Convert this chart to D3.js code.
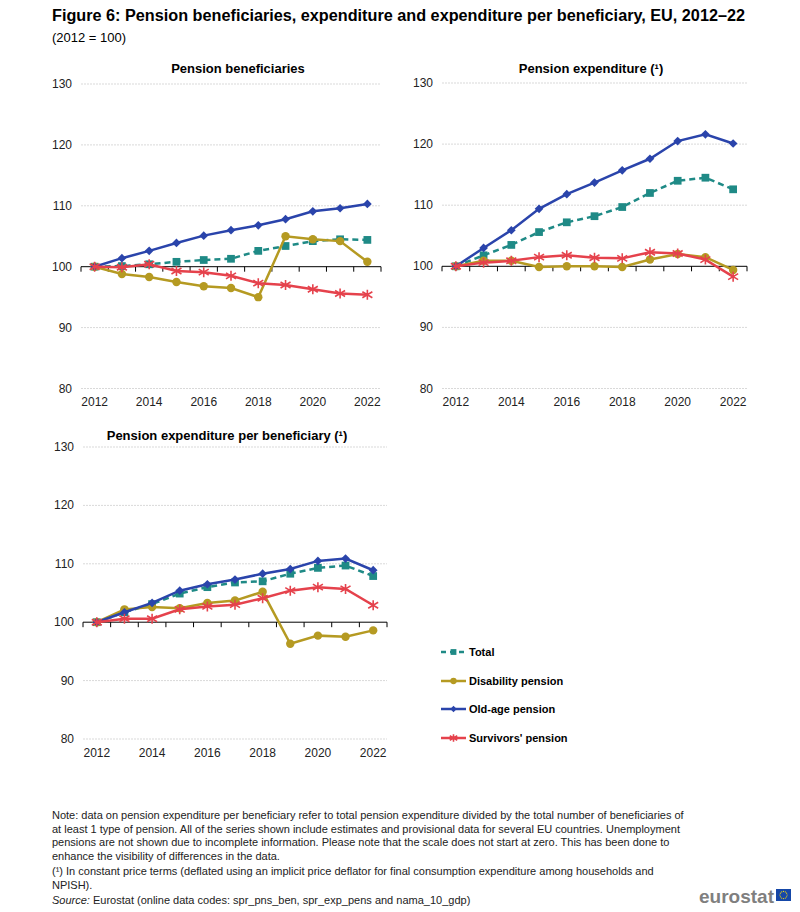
<!DOCTYPE html>
<html>
<head>
<meta charset="utf-8">
<script src="https://cdn.jsdelivr.net/npm/d3@7"></script>
<style>
  body { margin: 0; background: #fff; }
  text { font-family: Arial, "Liberation Sans", sans-serif; }
</style>
</head>
<body>
<svg id="chart" width="800" height="912"></svg>
<script>
// years on the x axis, labelled every other year
const years = [2012, 2013, 2014, 2015, 2016, 2017, 2018, 2019, 2020, 2021, 2022];
const yearLabels = [2012, 2014, 2016, 2018, 2020, 2022];
const yTicks = [80, 90, 100, 110, 120, 130];

const seriesNames = ["Total", "Disability pension", "Old-age pension", "Survivors' pension"];

// Pension beneficiaries (2012 = 100)
const benTotal      = [100, 100.1, 100.4, 100.8, 101.1, 101.3, 102.6, 103.4, 104.2, 104.5, 104.4];
const benDisability = [100, 98.8, 98.3, 97.5, 96.8, 96.5, 95.0, 105.0, 104.5, 104.2, 100.8];
const benOldAge     = [100, 101.4, 102.6, 103.9, 105.1, 106.0, 106.8, 107.8, 109.1, 109.6, 110.3];
const benSurvivors  = [100, 99.9, 100.4, 99.3, 99.1, 98.5, 97.3, 97.0, 96.3, 95.6, 95.4];

// Pension expenditure, constant prices (2012 = 100)
const expTotal      = [100, 101.8, 103.5, 105.6, 107.2, 108.2, 109.7, 112.0, 114.0, 114.5, 112.6];
const expDisability = [100, 100.9, 100.9, 99.9, 100.0, 100.0, 99.9, 101.1, 102.0, 101.5, 99.4];
const expOldAge     = [100, 103.0, 105.9, 109.4, 111.8, 113.7, 115.7, 117.6, 120.5, 121.6, 120.1];
const expSurvivors  = [100, 100.6, 100.9, 101.5, 101.8, 101.4, 101.3, 102.3, 102.1, 101.1, 98.3];

// Pension expenditure per beneficiary, constant prices (2012 = 100)
const perTotal      = [100, 101.7, 103.1, 104.9, 106.0, 106.8, 107.0, 108.3, 109.3, 109.7, 107.9];
const perDisability = [100, 102.2, 102.6, 102.4, 103.3, 103.7, 105.2, 96.3, 97.7, 97.5, 98.6];
const perOldAge     = [100, 101.7, 103.3, 105.4, 106.5, 107.3, 108.3, 109.1, 110.5, 110.9, 108.9];
const perSurvivors  = [100, 100.6, 100.6, 102.2, 102.7, 103.0, 104.1, 105.4, 106.0, 105.7, 102.9];

const colors = ["#1f8a86", "#b59a22", "#2a44ab", "#e5424c"];
const shapes = ["square", "circle", "diamond", "star"];

const panels = [
    {title: "Pension beneficiaries", series: [benTotal, benDisability, benOldAge, benSurvivors],
     x0: 81, x1: 381, yTop: 84, yBot: 388.5, titleX: 238, titleY: 73, labelY: 406},
    {title: "Pension expenditure (\u00b9)", series: [expTotal, expDisability, expOldAge, expSurvivors],
     x0: 442, x1: 747, yTop: 83, yBot: 388.5, titleX: 591, titleY: 73, labelY: 406},
    {title: "Pension expenditure per beneficiary (\u00b9)", series: [perTotal, perDisability, perOldAge, perSurvivors],
     x0: 83, x1: 387, yTop: 447, yBot: 739, titleX: 227, titleY: 440, labelY: 757}
];

const svg = d3.select("#chart");

// heading
svg.append("text")
   .attr("x", 52).attr("y", 21)
   .attr("textLength", 693).attr("lengthAdjust", "spacingAndGlyphs")
   .style("font-size", "16px").style("font-weight", "bold")
   .text("Figure 6: Pension beneficiaries, expenditure and expenditure per beneficiary, EU, 2012\u201322");
svg.append("text")
   .attr("x", 52).attr("y", 42)
   .style("font-size", "13px")
   .text("(2012 = 100)");

function drawMarker(g, shape, color, cx, cy, scale = 1) {
    if (shape === "star") {
        const r = 5 * scale;
        g.append("path")
         .attr("d", `M${cx},${cy - r}V${cy + r}M${cx - r},${cy - r * 0.6}L${cx + r},${cy + r * 0.6}M${cx - r},${cy + r * 0.6}L${cx + r},${cy - r * 0.6}`)
         .attr("stroke", color).attr("stroke-width", 1.6).attr("fill", "none");
        return;
    }
    const sym = {square: d3.symbolSquare, circle: d3.symbolCircle, diamond: d3.symbolSquare}[shape];
    const size = {square: 60, circle: 56, diamond: 38}[shape] * scale * scale;
    g.append("path")
     .attr("d", d3.symbol().type(sym).size(size)())
     .attr("transform", `translate(${cx},${cy})` + (shape === "diamond" ? " rotate(45)" : ""))
     .attr("fill", color);
}

panels.forEach(p => {
    const x = d3.scalePoint().domain(years).range([p.x0, p.x1]).padding(0.5);
    const y = d3.scaleLinear().domain([80, 130]).range([p.yBot, p.yTop]);
    const g = svg.append("g").attr("class", "panel");

    // title
    g.append("text")
     .attr("x", p.titleX).attr("y", p.titleY)
     .attr("text-anchor", "middle")
     .style("font-size", "13px").style("font-weight", "bold")
     .text(p.title);

    // gridlines
    g.selectAll(".grid").data(yTicks.filter(t => t !== 100)).join("line")
     .attr("x1", p.x0).attr("x2", p.x1)
     .attr("y1", d => y(d)).attr("y2", d => y(d))
     .attr("stroke", "#d9d9d9").attr("stroke-width", 1).attr("stroke-dasharray", "2,1");

    // y labels
    g.selectAll(".ylab").data(yTicks).join("text")
     .attr("x", p.x0 - 9).attr("y", d => y(d) + 4)
     .attr("text-anchor", "end")
     .style("font-size", "12px").style("fill", "#222")
     .text(d => d);

    // x axis line at 100 with ticks at category boundaries
    const step = x.step();
    g.append("line")
     .attr("x1", p.x0).attr("x2", p.x1)
     .attr("y1", y(100)).attr("y2", y(100))
     .attr("stroke", "#000").attr("stroke-width", 1);
    g.selectAll(".xtick").data(d3.range(years.length + 1)).join("line")
     .attr("x1", i => p.x0 + i * step).attr("x2", i => p.x0 + i * step)
     .attr("y1", y(100)).attr("y2", y(100) + 5)
     .attr("stroke", "#000").attr("stroke-width", 1);

    // x labels
    g.selectAll(".xlab").data(yearLabels).join("text")
     .attr("x", d => x(d)).attr("y", p.labelY)
     .attr("text-anchor", "middle")
     .style("font-size", "12px").style("fill", "#222")
     .text(d => d);

    // series lines and markers
    p.series.forEach((vals, si) => {
        const line = d3.line().x((d, i) => x(years[i])).y(d => y(d));
        g.append("path")
         .datum(vals)
         .attr("d", line)
         .attr("fill", "none")
         .attr("stroke", colors[si])
         .attr("stroke-width", 2.5)
         .attr("stroke-dasharray", si === 0 ? "6,4" : null);
        const mg = g.append("g");
        vals.forEach((v, i) => drawMarker(mg, shapes[si], colors[si], x(years[i]), y(v)));
    });
});

// legend
const legendY = [652, 681, 709, 738];
const legend = svg.append("g").attr("class", "legend");
seriesNames.forEach((name, i) => {
    legend.append("line")
          .attr("x1", 441).attr("x2", 466)
          .attr("y1", legendY[i]).attr("y2", legendY[i])
          .attr("stroke", colors[i]).attr("stroke-width", 2.5)
          .attr("stroke-dasharray", i === 0 ? "5,4" : null);
    drawMarker(legend, shapes[i], colors[i], 453.5, legendY[i], 0.75);
    legend.append("text")
          .attr("x", 469).attr("y", legendY[i] + 4)
          .style("font-size", "11px").style("font-weight", "bold")
          .text(name);
});

// notes
const notes = [
    {y: 819, t: "Note: data on pension expenditure per beneficiary refer to total pension expenditure divided by the total number of beneficiaries of"},
    {y: 833, t: "at least 1 type of pension. All of the series shown include estimates and provisional data for several EU countries. Unemployment"},
    {y: 846, t: "pensions are not shown due to incomplete information. Please note that the scale does not start at zero. This has been done to"},
    {y: 860, t: "enhance the visibility of differences in the data."},
    {y: 875, t: "(\u00b9) In constant price terms (deflated using an implicit price deflator for final consumption expenditure among households and"},
    {y: 889, t: "NPISH)."}
];
notes.forEach(n => {
    svg.append("text").attr("x", 52).attr("y", n.y)
       .style("font-size", "11px").style("fill", "#222").text(n.t);
});
const src = svg.append("text").attr("x", 52).attr("y", 904)
               .style("font-size", "11px").style("fill", "#222");
src.append("tspan").style("font-style", "italic").text("Source:");
src.append("tspan").text(" Eurostat (online data codes: spr_pns_ben, spr_exp_pens and nama_10_gdp)");

// eurostat logo
svg.append("text").attr("x", 774).attr("y", 903)
   .attr("text-anchor", "end")
   .style("font-size", "19px").style("font-weight", "bold").style("fill", "#7f7f7f")
   .text("eurostat");
svg.append("rect").attr("x", 776).attr("y", 889).attr("width", 15).attr("height", 12).attr("fill", "#1547a8");
d3.range(12).forEach(i => {
    const a = i / 12 * 2 * Math.PI;
    svg.append("circle")
       .attr("cx", 783.5 + 3.6 * Math.cos(a)).attr("cy", 895 + 3.6 * Math.sin(a))
       .attr("r", 0.6).attr("fill", "#f5d90a");
});
</script>
</body>
</html>
